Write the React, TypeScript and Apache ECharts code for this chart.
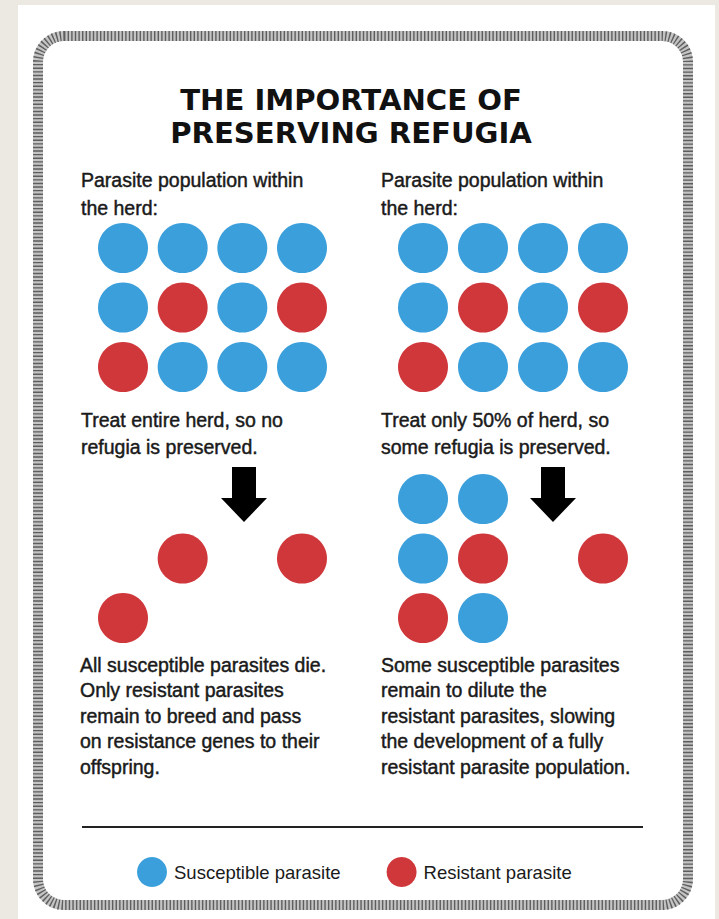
import React, { useEffect, useRef } from "react";
import * as echarts from "echarts";

// ---- Data ----
const titleLines = ["THE IMPORTANCE OF", "PRESERVING REFUGIA"];
const legendNames = ["Susceptible parasite", "Resistant parasite"];
// S = susceptible, R = resistant, "" = none (died)
const herdBefore: string[][] = [
  ["S", "S", "S", "S"],
  ["S", "R", "S", "R"],
  ["R", "S", "S", "S"],
];
const afterFullTreatment: string[][] = [
  ["", "", "", ""],
  ["", "R", "", "R"],
  ["R", "", "", ""],
];
const afterHalfTreatment: string[][] = [
  ["S", "S", "", ""],
  ["S", "R", "", "R"],
  ["R", "S", "", ""],
];
const leftHeader = ["Parasite population within", "the herd:"];
const rightHeader = ["Parasite population within", "the herd:"];
const leftTreatment = ["Treat entire herd, so no", "refugia is preserved."];
const rightTreatment = ["Treat only 50% of herd, so", "some refugia is preserved."];
const leftOutcome = [
  "All susceptible parasites die.",
  "Only resistant parasites",
  "remain to breed and pass",
  "on resistance genes to their",
  "offspring.",
];
const rightOutcome = [
  "Some susceptible parasites",
  "remain to dilute the",
  "resistant parasites, slowing",
  "the development of a fully",
  "resistant parasite population.",
];

const BLUE = "#3a9fdb";
const RED = "#cf373b";
const FONT = "'Liberation Sans', Arial, sans-serif";
const TEXT = "#1a1a1a";

function pts(grid: string[][], kind: string): number[][] {
  const out: number[][] = [];
  grid.forEach((row, r) => row.forEach((v, c) => { if (v === kind) out.push([c, r]); }));
  return out;
}

export default function App() {
  const ref = useRef<HTMLDivElement>(null);
  useEffect(() => {
    if (!ref.current) return;
    const chart = echarts.init(ref.current, null, { renderer: "svg" });
    const panels = [herdBefore, herdBefore, afterFullTreatment, afterHalfTreatment];
    const grids = [
      { left: 123, top: 248, width: 179, height: 119 },
      { left: 423, top: 248, width: 180, height: 119 },
      { left: 123, top: 499, width: 179, height: 119 },
      { left: 423, top: 499, width: 180, height: 119 },
    ];
    const xAxis = grids.map((_, i) => ({ type: "value", gridIndex: i, min: 0, max: 3, show: false }));
    const yAxis = grids.map((_, i) => ({ type: "value", gridIndex: i, min: 0, max: 2, inverse: true, show: false }));
    const series: any[] = [];
    panels.forEach((p, i) => {
      series.push({
        type: "scatter", name: legendNames[0], xAxisIndex: i, yAxisIndex: i,
        symbol: "circle", symbolSize: 50, itemStyle: { color: BLUE, opacity: 1 }, data: pts(p, "S"), silent: true,
      });
      series.push({
        type: "scatter", name: legendNames[1], xAxisIndex: i, yAxisIndex: i,
        symbol: "circle", symbolSize: 50, itemStyle: { color: RED, opacity: 1 }, data: pts(p, "R"), silent: true,
      });
    });

    const textEl = (lines: string[], x: number, y: number, lh: number, size = 19.5) => ({
      type: "text", x, y,
      style: {
        text: lines.join("\n"), font: `${size}px ${FONT}`, fill: TEXT, lineHeight: lh,
        textVerticalAlign: "top", stroke: TEXT, lineWidth: 0.45,
      },
    });
    const titleEl = (t: string, y: number) => ({
      type: "text", x: 351, y, scaleX: 1.04,
      style: {
        text: t, font: "bold 28px 'DejaVu Sans', sans-serif", fill: "#111",
        textAlign: "center", textVerticalAlign: "middle",
      },
    });
    const arrow = (cx: number) => ({
      type: "polygon",
      shape: {
        points: [
          [cx - 12, 467], [cx + 12, 467], [cx + 12, 498], [cx + 23, 498],
          [cx, 522], [cx - 23, 498], [cx - 12, 498],
        ],
      },
      style: { fill: "#000" },
    });

    chart.setOption({
      animation: false,
      backgroundColor: "#ece9e3",
      grid: grids,
      xAxis, yAxis, series,
      legend: {
        data: legendNames,
        left: 132, top: 852,
        icon: "circle", itemWidth: 30, itemHeight: 30, itemGap: 46,
        selectedMode: false,
        textStyle: { fontSize: 18.5, color: TEXT, fontFamily: FONT, padding: [0, 0, 0, 2] },
      },
      graphic: [
        { type: "rect", z: -10, shape: { x: 18, y: 5, width: 697, height: 914 }, style: { fill: "#ffffff" } },
        { type: "rect", shape: { x: 38, y: 36, width: 650, height: 869, r: 26 }, style: { fill: "none", stroke: "#c4c4c4", lineWidth: 10 } },
        { type: "rect", shape: { x: 38, y: 36, width: 650, height: 869, r: 26 }, style: { fill: "none", stroke: "#5e5e5e", lineWidth: 10, lineDash: [1.4, 2.2] } },
        titleEl(titleLines[0], 100),
        titleEl(titleLines[1], 133.5),
        textEl(leftHeader, 81, 166, 28),
        textEl(rightHeader, 381, 166, 28),
        textEl(leftTreatment, 81, 406, 27),
        textEl(rightTreatment, 381, 406, 27),
        textEl(leftOutcome, 80, 652, 25.5),
        textEl(rightOutcome, 381, 652, 25.5),
        arrow(244),
        arrow(553),
        { type: "line", shape: { x1: 82, y1: 827, x2: 643, y2: 827 }, style: { stroke: "#222", lineWidth: 2 } },
      ],
    });
    return () => chart.dispose();
  }, []);
  return <div ref={ref} style={{ position: "fixed", left: 0, top: 0, width: 719, height: 919 }} />;
}
